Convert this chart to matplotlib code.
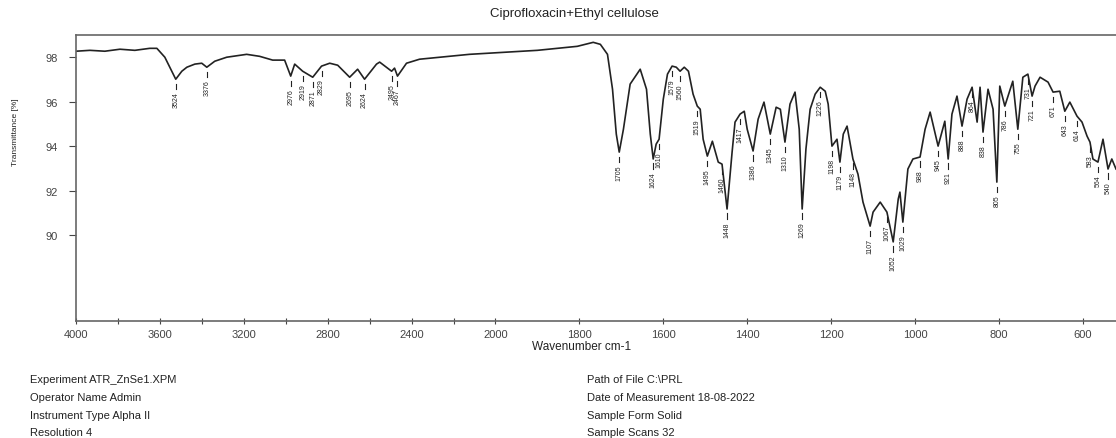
import numpy as np
import matplotlib
matplotlib.use('Agg')
import matplotlib.pyplot as plt

plt.rcParams['font.family'] = ['Liberation Sans', 'DejaVu Sans']

# spectrum (wavenumber cm-1, transmittance %)
wavenumber = [4000, 3933, 3862, 3790, 3719, 3648, 3614, 3576, 3543, 3524, 3495, 3471,
              3433, 3400, 3376, 3338, 3281, 3186, 3124, 3062, 3005, 2976, 2957, 2919,
              2871, 2829, 2790, 2752, 2695, 2657, 2624, 2567, 2552, 2495, 2481, 2467,
              2424, 2362, 2124, 1900, 1805, 1767, 1750, 1733, 1721, 1712, 1705, 1695,
              1679, 1655, 1640, 1631, 1624, 1617, 1610, 1600, 1590, 1579, 1569, 1560,
              1550, 1540, 1529, 1519, 1512, 1505, 1495, 1483, 1469, 1460, 1448, 1436,
              1429, 1417, 1407, 1400, 1386, 1374, 1360, 1345, 1331, 1321, 1310, 1298,
              1286, 1276, 1269, 1260, 1250, 1238, 1226, 1214, 1207, 1198, 1186, 1179,
              1171, 1162, 1148, 1136, 1124, 1107, 1100, 1083, 1067, 1052, 1040, 1036,
              1029, 1017, 1005, 988, 976, 964, 945, 929, 921, 912, 900, 888, 876, 864,
              852, 845, 838, 826, 814, 805, 798, 786, 767, 755, 743, 731, 721, 714, 702,
              683, 671, 655, 643, 631, 614, 602, 590, 583, 576, 564, 552, 540, 531, 521]
transmittance = [98.27, 98.31, 98.27, 98.36, 98.31, 98.40, 98.40, 98.00, 97.37, 97.01, 97.37, 97.55,
                 97.69, 97.73, 97.55, 97.82, 98.00, 98.13, 98.04, 97.87, 97.87, 97.15, 97.69, 97.37,
                 97.10, 97.60, 97.73, 97.64, 97.10, 97.46, 97.01, 97.69, 97.78, 97.37, 97.51, 97.15,
                 97.73, 97.91, 98.13, 98.31, 98.49, 98.67, 98.58, 98.13, 96.56, 94.54, 93.73, 94.76,
                 96.79, 97.46, 96.56, 94.54, 93.42, 94.09, 94.31, 96.11, 97.24, 97.60, 97.55, 97.37,
                 97.55, 97.37, 96.34, 95.80, 95.66, 94.31, 93.55, 94.22, 93.28, 93.19, 91.17, 93.73,
                 95.08, 95.44, 95.57, 94.76, 93.78, 95.21, 95.98, 94.54, 95.75, 95.66, 94.18, 95.89,
                 96.43, 94.76, 91.17, 93.87, 95.66, 96.34, 96.65, 96.47, 95.89, 94.00, 94.31, 93.28,
                 94.54, 94.90, 93.42, 92.74, 91.48, 90.40, 91.03, 91.48, 91.03, 89.69, 91.62, 91.93,
                 90.58, 92.97, 93.42, 93.51, 94.76, 95.53, 94.00, 95.12, 93.42, 95.44, 96.25, 94.90, 96.11, 96.65,
                 95.08, 96.65, 94.63, 96.56, 95.66, 92.38, 96.70, 95.80, 96.92, 94.76, 97.10, 97.24, 96.25, 96.70, 97.10,
                 96.88, 96.43, 96.47, 95.57, 95.98, 95.35, 95.08, 94.45, 94.18, 93.42, 93.28, 94.31, 92.97, 93.42, 92.97]

# labelled band positions
peaks = [3524, 3376, 2976, 2919, 2871, 2829, 2695, 2624, 2495, 2467,
         1705, 1624, 1610, 1579, 1560, 1519, 1495, 1460, 1448, 1417, 1386, 1345,
         1310, 1269, 1226, 1198, 1179, 1148, 1107, 1067, 1052, 1029, 988, 945,
         921, 888, 864, 838, 805, 786, 755, 731, 721, 671, 643, 614, 583, 564, 540]

xticks = [4000, 3600, 3200, 2800, 2400, 2000, 1800, 1600, 1400, 1200, 1000, 800, 600]
xminor = [3800, 3400, 3000, 2600, 2200]
yticks = [90, 92, 94, 96, 98]

info_left = ['Experiment ATR_ZnSe1.XPM', 'Operator Name Admin',
             'Instrument Type Alpha II', 'Resolution 4']
info_right = ['Path of File C:\\PRL', 'Date of Measurement 18-08-2022',
              'Sample Form Solid', 'Sample Scans 32']


# OPUS style axis: 400 cm-1 steps above 2000, 200 cm-1 steps below
def fwd(x):
    x = np.asarray(x, dtype=float)
    return np.where(x >= 2000, x, 2 * x - 2000)


def inv(u):
    u = np.asarray(u, dtype=float)
    return np.where(u >= 2000, u, (u + 2000) / 2)


fig = plt.figure(figsize=(11.16, 4.39), dpi=100)
ax = fig.add_axes([0.068, 0.2665, 0.932, 0.6515])
ax.set_xscale('function', functions=(fwd, inv))

ink = '#222222'
ax.plot(wavenumber, transmittance, color=ink, lw=1.2)

wn_inc = np.array(wavenumber[::-1])
t_inc = np.array(transmittance[::-1])
for p in peaks:
    t = np.interp(p, wn_inc, t_inc)
    ax.plot([p, p], [t - 0.2, t - 0.45], color=ink, lw=0.8)
    ax.text(p, t - 0.55, str(p), rotation=90, ha='center', va='top',
            fontsize=5, color=ink)

ax.set_xlim(4000, 521)
ax.set_ylim(86.13, 99.0)
ax.set_xticks(xticks)
ax.set_xticklabels([str(v) for v in xticks])
ax.set_xticks(xminor, minor=True)
ax.set_yticks(yticks)
ax.tick_params(axis='x', which='both', direction='inout', length=4, width=0.8,
               labelsize=8, colors='#444444', pad=4)
ax.tick_params(axis='y', direction='out', length=5, width=0.8, labelsize=8,
               colors='#444444', pad=8)
for s in ['left', 'bottom', 'top']:
    ax.spines[s].set_color('#666666')
    ax.spines[s].set_linewidth(1.2)
ax.spines['right'].set_visible(False)

fig.text(0.515, 0.968, 'Ciprofloxacin+Ethyl cellulose', ha='center', va='center',
         fontsize=9.5, color=ink)
fig.text(0.521, 0.21, 'Wavenumber cm-1', ha='center', va='center', fontsize=8.5, color=ink)
fig.text(0.014, 0.70, 'Transmittance [%]', rotation=90, ha='center', va='center',
         fontsize=6, color=ink)

rows = [0.134, 0.093, 0.052, 0.013]
for txt, y in zip(info_left, rows):
    fig.text(0.027, y, txt, ha='left', va='center', fontsize=8, color=ink)
for txt, y in zip(info_right, rows):
    fig.text(0.526, y, txt, ha='left', va='center', fontsize=8, color=ink)

fig.savefig('out.png', dpi=100)
